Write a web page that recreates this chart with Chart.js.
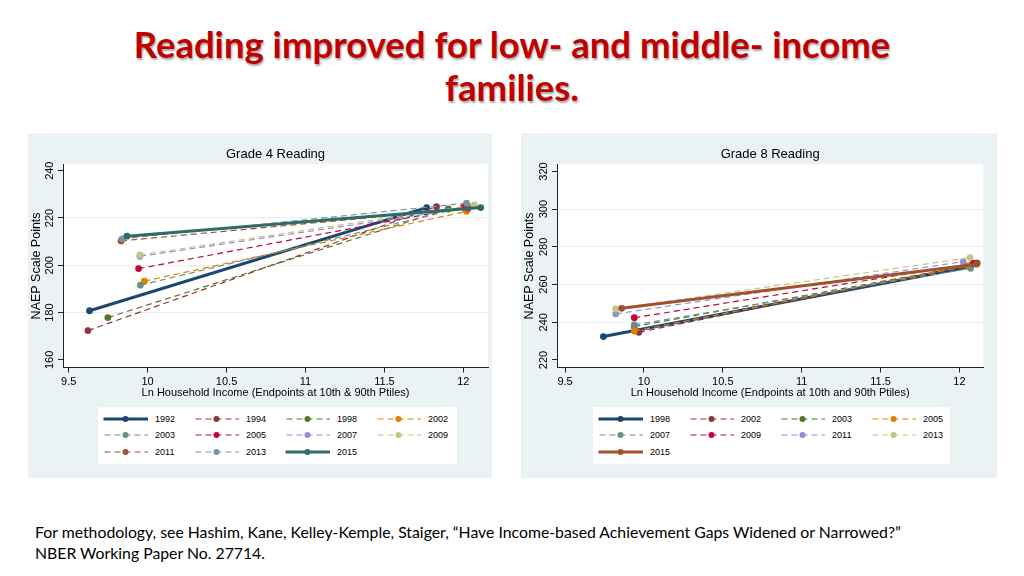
<!DOCTYPE html>
<html><head><meta charset="utf-8">
<script src="https://cdn.jsdelivr.net/npm/chart.js@4"></script>
<style>
body{margin:0;width:1024px;height:576px;background:#fff;position:relative;overflow:hidden;font-family:'Liberation Sans',Arial,sans-serif;}
#title{position:absolute;left:0;top:23px;width:1024px;text-align:center;font-family:Lato,'Open Sans',sans-serif;font-weight:bold;font-size:36.5px;line-height:43px;color:#c00000;text-shadow:1px 1.5px 2px rgba(0,0,0,0.35);}
#foot{position:absolute;left:35px;top:521px;font-family:Lato,'Open Sans',sans-serif;font-size:15.8px;line-height:21px;color:#000;}
.panel{position:absolute;background:#eaf2f3;}
.panel canvas{position:absolute;left:0;top:0;}
.legend{position:absolute;background:#fff;}
.li{position:absolute;height:12px;font-size:9px;line-height:12px;color:#000;white-space:nowrap;}
.li svg{position:absolute;left:0;top:1px;}
.li span{position:absolute;top:0;}
</style></head>
<body>
<div id="title">Reading improved for low- and middle- income<br>families.</div>
<div class="panel" id="p4" style="left:28px;top:133px;width:464px;height:345px;">
  <canvas id="c4" width="464" height="268"></canvas>
  <div class="legend" id="l4" style="left:70px;top:274px;width:359px;height:57px;"></div>
</div>
<div class="panel" id="p8" style="left:521px;top:133px;width:476px;height:345px;">
  <canvas id="c8" width="476" height="268"></canvas>
  <div class="legend" id="l8" style="left:72px;top:274px;width:357px;height:57px;"></div>
</div>
<div id="foot">For methodology, see Hashim, Kane, Kelley-Kemple, Staiger, “Have Income-based Achievement Gaps Widened or Narrowed?”<br>NBER Working Paper No. 27714.</div>
<script>
// ---- Data: Grade 4 Reading ----
const g4Years = ['1992','1994','1998','2002','2003','2005','2007','2009','2011','2013','2015'];
const g4LowX  = [9.632, 9.622, 9.748, 9.979, 9.954, 9.943, 9.951, 9.951, 9.832, 9.838, 9.869];
const g4LowY  = [180.8, 172.4, 177.9, 193.3, 191.6, 198.6, 203.8, 204.4, 210.3, 211.2, 212.3];
const g4HighX = [11.767, 11.83, 11.904, 12.02, 12.03, 12.0, 12.03, 12.07, 12.03, 12.02, 12.11];
const g4HighY = [224.4, 224.8, 223.8, 222.8, 225.0, 224.5, 224.3, 225.5, 224.0, 226.3, 224.4];
const g4Solid = ['1992','2015'];
const g4YTicks = [160, 180, 200, 220, 240];

// ---- Data: Grade 8 Reading ----
const g8Years = ['1998','2002','2003','2005','2007','2009','2011','2013','2015'];
const g8LowX  = [9.743, 9.968, 9.939, 9.939, 9.939, 9.939, 9.821, 9.821, 9.859];
const g8LowY  = [232.4, 234.7, 237.7, 235.3, 238.6, 242.4, 244.4, 247.1, 247.4];
const g8HighX = [12.07, 12.112, 12.04, 12.06, 12.07, 12.087, 12.024, 12.067, 12.108];
const g8HighY = [269.5, 271.3, 269.8, 270.0, 268.6, 271.3, 272.2, 274.3, 270.8];
const g8Solid = ['1998','2015'];
const g8YTicks = [220, 240, 260, 280, 300, 320];

const xTicks = [9.5, 10, 10.5, 11, 11.5, 12];

const palette = ['#1a476f','#90353b','#55752f','#e37e00','#6e8e84','#c10534','#938dd2','#cac27e','#a0522d','#7b92a8','#2d6d66'];
const FONT = '"Liberation Sans", Arial, sans-serif';

const areaBg = {id:'areaBg', beforeDraw(chart){const {ctx, chartArea:a}=chart; ctx.save(); ctx.fillStyle='#fff'; ctx.fillRect(a.left,a.top,a.right-a.left,a.bottom-a.top); ctx.restore();}};
const yLabels = {id:'yLabels', afterDraw(chart, args, opts){
  const s = chart.scales.y, ctx = chart.ctx, a = chart.chartArea;
  ctx.save(); ctx.fillStyle='#000'; ctx.font='11px '+FONT; ctx.textAlign='center'; ctx.textBaseline='middle';
  s.ticks.forEach(t=>{const y=s.getPixelForValue(t.value); ctx.save(); ctx.translate(a.left-13.5, y); ctx.rotate(-Math.PI/2); ctx.fillText(String(t.value),0,0); ctx.restore();});
  ctx.font='13px '+FONT;
  ctx.fillText(opts.text, (a.left+a.right)/2, 21);
  ctx.restore();
}};

function makeChart(id, years, lx, ly, hx, hy, solid, yTicks, yMin, yMax, xMin, xMax, title, xTitle, yW, padR){
  const n = years.length;
  const datasets = years.map((yr,i)=>{
    const isSolid = solid.includes(yr);
    return {
      label: yr,
      data: [{x:lx[i], y:ly[i]}, {x:hx[i], y:hy[i]}],
      borderColor: palette[i], backgroundColor: palette[i],
      pointBackgroundColor: palette[i], pointBorderWidth: 0, pointRadius: 3.4,
      borderWidth: isSolid ? 3 : 1.2, borderDash: isSolid ? [] : [6,4],
      order: n - i, tension: 0
    };
  });
  return new Chart(document.getElementById(id), {
    type: 'line',
    data: {datasets},
    plugins: [areaBg, yLabels],
    options: {
      responsive:false, animation:false, devicePixelRatio:1,
      layout:{padding:{left:0,right:padR,top:31.3,bottom:0}},
      plugins:{
        legend:{display:false}, tooltip:{enabled:false}, title:{display:false},
        yLabels:{text:title}
      },
      scales:{
        x:{type:'linear', min:xMin, max:xMax,
          afterBuildTicks: s=>{s.ticks = xTicks.map(v=>({value:v}));},
          afterFit: s=>{s.height = 33.5;},
          ticks:{color:'#000', font:{family:FONT,size:11}, padding:3, maxRotation:0, autoSkip:false, callback:v=>String(v)},
          grid:{drawOnChartArea:false, drawTicks:true, tickLength:5, tickColor:'#222', tickWidth:1},
          border:{display:true, color:'#222', width:1},
          title:{display:true, text:xTitle, color:'#000', font:{family:FONT,size:11}, padding:{top:0,bottom:1}}
        },
        y:{type:'linear', min:yMin, max:yMax,
          afterBuildTicks: s=>{s.ticks = yTicks.map(v=>({value:v}));},
          afterFit: s=>{s.width = yW;},
          ticks:{display:false},
          grid:{drawOnChartArea:true, drawTicks:true, tickLength:5, tickColor:'#222', tickWidth:1,
            color: c => (c.index===0 || c.index===yTicks.length-1) ? 'rgba(0,0,0,0)' : '#e6eef0', lineWidth:1},
          border:{display:true, color:'#222', width:1},
          title:{display:true, text:'NAEP Scale Points', color:'#000', font:{family:FONT,size:12.5}, padding:{top:1,bottom:0}}
        }
      }
    }
  });
}

makeChart('c4', g4Years, g4LowX, g4LowY, g4HighX, g4HighY, g4Solid, g4YTicks, 156.8, 242.7, 9.464, 12.156,
  'Grade 4 Reading', 'Ln Household Income (Endpoints at 10th & 90th Ptiles)', 35, 2.3);
makeChart('c8', g8Years, g8LowX, g8LowY, g8HighX, g8HighY, g8Solid, g8YTicks, 216.0, 323.8, 9.449, 12.151,
  'Grade 8 Reading', 'Ln Household Income (Endpoints at 10th and 90th Ptiles)', 36, 13.7);

function makeLegend(id, years, solid){
  const box = document.getElementById(id);
  years.forEach((yr,i)=>{
    const col = i % 4, row = Math.floor(i/4);
    const d = document.createElement('div');
    d.className='li';
    d.style.left = (4.6 + col*91)+'px';
    d.style.top = (5.6 + row*16.7)+'px';
    const isSolid = solid.includes(yr);
    const c = palette[i];
    d.innerHTML = '<svg width="46" height="10"><line x1="0.5" y1="5" x2="45" y2="5" stroke="'+c+'" stroke-width="'+(isSolid?3:1.2)+'"'+(isSolid?'':' stroke-dasharray="6 4" stroke-dashoffset="-1"')+'/><circle cx="22.5" cy="5" r="3" fill="'+c+'"/></svg><span style="left:52.5px">'+yr+'</span>';
    box.appendChild(d);
  });
}
makeLegend('l4', g4Years, g4Solid);
makeLegend('l8', g8Years, g8Solid);
</script>
</body></html>
